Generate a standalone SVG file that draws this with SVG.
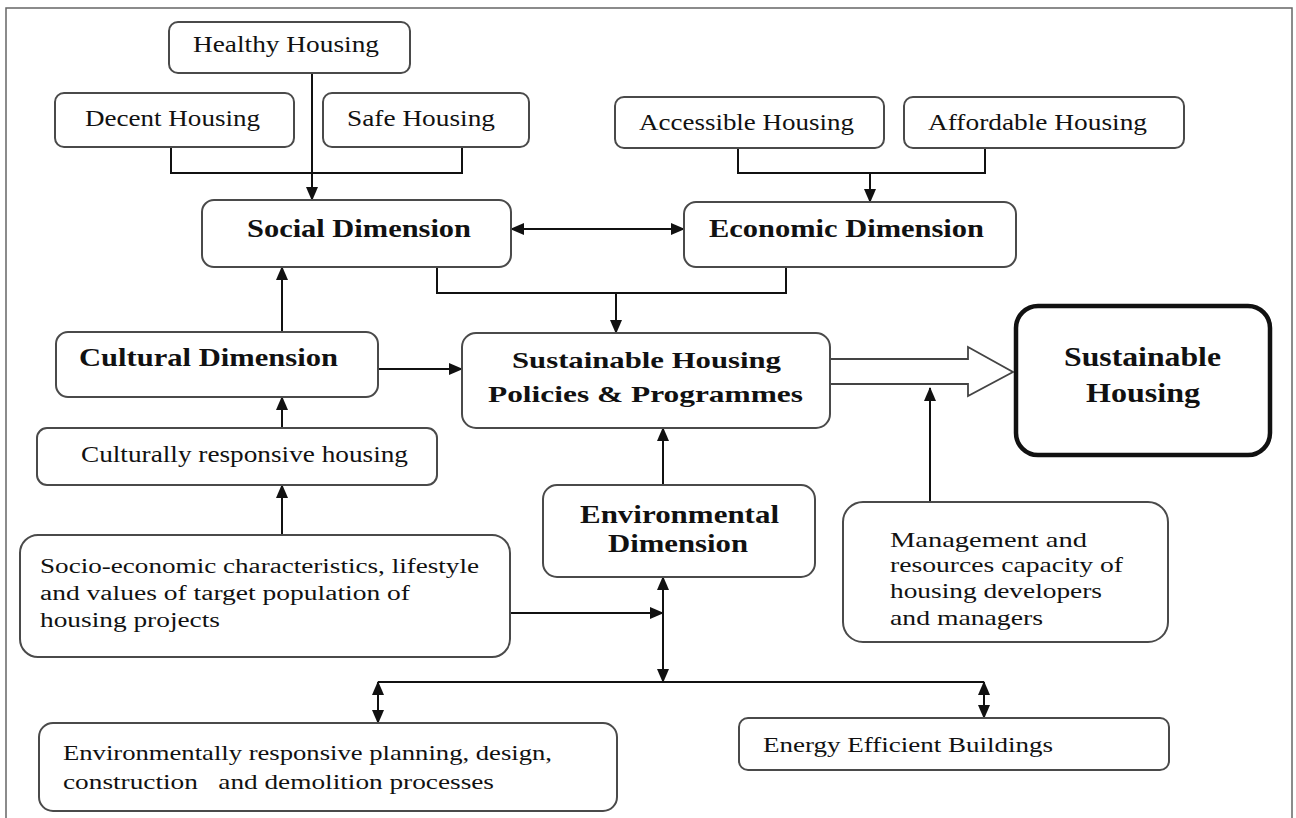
<svg xmlns="http://www.w3.org/2000/svg" width="1296" height="818" viewBox="0 0 1296 818">
<style>
.box{fill:#fff;stroke:#4a4a4a;stroke-width:2}
.thick{fill:#fff;stroke:#111;stroke-width:4.5}
.c{fill:none;stroke:#111;stroke-width:2}
.t{font-family:"Liberation Serif",serif;fill:#111}
.r{font-size:24px}
.b{font-size:25px;font-weight:bold}
.s{font-size:21px}
</style>
<defs>
<marker id="ah" markerUnits="userSpaceOnUse" markerWidth="14" markerHeight="12" refX="13" refY="6" orient="auto-start-reverse">
<path d="M0,0 L14,6 L0,12 Z" fill="#111"/>
</marker>
</defs>
<rect x="6" y="8" width="1286" height="830" fill="none" stroke="#666" stroke-width="1.5"/>
<g id="connectors">
<path class="c" d="M171,147 V173 H462 V147"/>
<path class="c" d="M312,73 V200" marker-end="url(#ah)"/>
<path class="c" d="M738,148 V173 H985 V148"/>
<path class="c" d="M870,173 V202" marker-end="url(#ah)"/>
<path class="c" d="M511,229 H684" marker-start="url(#ah)" marker-end="url(#ah)"/>
<path class="c" d="M437,267 V293 H786 V267"/>
<path class="c" d="M616,293 V333" marker-end="url(#ah)"/>
<path class="c" d="M282,332 V267" marker-end="url(#ah)"/>
<path class="c" d="M378,369 H462" marker-end="url(#ah)"/>
<path class="c" d="M282,428 V397" marker-end="url(#ah)"/>
<path class="c" d="M282,535 V485" marker-end="url(#ah)"/>
<path class="c" d="M663,485 V428" marker-end="url(#ah)"/>
<path class="c" d="M510,613 H663" marker-end="url(#ah)"/>
<path class="c" d="M663,577 V682" marker-start="url(#ah)" marker-end="url(#ah)"/>
<path class="c" d="M378,682 H984"/>
<path class="c" d="M378,682 V723" marker-start="url(#ah)" marker-end="url(#ah)"/>
<path class="c" d="M984,682 V718" marker-start="url(#ah)" marker-end="url(#ah)"/>
<path class="c" d="M930,502 V388" marker-end="url(#ah)"/>
<polygon points="829,359 968,359 968,347 1013,372 968,396 968,384 829,384" fill="#fff" stroke="#444" stroke-width="1.8"/>
</g>
<g id="healthy"><rect class="box" x="169" y="22" width="241" height="51" rx="9"/><text class="t r" x="193" y="52" textLength="186" lengthAdjust="spacingAndGlyphs">Healthy Housing</text></g>
<g id="decent"><rect class="box" x="55" y="93" width="239" height="54" rx="9"/><text class="t r" x="85" y="126" textLength="175" lengthAdjust="spacingAndGlyphs">Decent Housing</text></g>
<g id="safe"><rect class="box" x="323" y="93" width="206" height="54" rx="9"/><text class="t r" x="347" y="126" textLength="148" lengthAdjust="spacingAndGlyphs">Safe Housing</text></g>
<g id="accessible"><rect class="box" x="615" y="97" width="269" height="51" rx="9"/><text class="t r" x="639" y="130" textLength="215" lengthAdjust="spacingAndGlyphs">Accessible Housing</text></g>
<g id="affordable"><rect class="box" x="904" y="97" width="280" height="51" rx="9"/><text class="t r" x="928" y="130" textLength="219" lengthAdjust="spacingAndGlyphs">Affordable Housing</text></g>
<g id="social"><rect class="box" x="202" y="200" width="309" height="67" rx="12"/><text class="t b" x="247" y="237" textLength="224" lengthAdjust="spacingAndGlyphs">Social Dimension</text></g>
<g id="economic"><rect class="box" x="684" y="202" width="332" height="65" rx="12"/><text class="t b" x="709" y="237" textLength="275" lengthAdjust="spacingAndGlyphs">Economic Dimension</text></g>
<g id="cultural"><rect class="box" x="56" y="332" width="322" height="65" rx="12"/><text class="t b" x="79" y="366" textLength="259" lengthAdjust="spacingAndGlyphs">Cultural Dimension</text></g>
<g id="policies"><rect class="box" x="462" y="333" width="368" height="95" rx="14"/><text class="t b" x="512" y="368" textLength="269" lengthAdjust="spacingAndGlyphs" style="font-size:24px">Sustainable Housing</text><text class="t b" x="488" y="402" textLength="315" lengthAdjust="spacingAndGlyphs" style="font-size:24px">Policies &amp; Programmes</text></g>
<g id="sustainable-housing"><rect class="thick" x="1016" y="306" width="254" height="149" rx="22"/><text class="t b" x="1064" y="366" textLength="157" lengthAdjust="spacingAndGlyphs" style="font-size:27px">Sustainable</text><text class="t b" x="1086" y="402" textLength="114" lengthAdjust="spacingAndGlyphs" style="font-size:27px">Housing</text></g>
<g id="culturally"><rect class="box" x="37" y="428" width="400" height="57" rx="10"/><text class="t r" x="81" y="462" textLength="327" lengthAdjust="spacingAndGlyphs">Culturally responsive housing</text></g>
<g id="environmental"><rect class="box" x="543" y="485" width="272" height="92" rx="14"/><text class="t b" x="580" y="523" textLength="199" lengthAdjust="spacingAndGlyphs">Environmental</text><text class="t b" x="608" y="552" textLength="140" lengthAdjust="spacingAndGlyphs">Dimension</text></g>
<g id="socio"><rect class="box" x="20" y="535" width="490" height="122" rx="18"/>
<text class="t" style="font-size:20px" x="40" y="573" textLength="439" lengthAdjust="spacingAndGlyphs">Socio-economic characteristics, lifestyle</text>
<text class="t" style="font-size:20px" x="40" y="600" textLength="370" lengthAdjust="spacingAndGlyphs">and values of target population of</text>
<text class="t" style="font-size:20px" x="40" y="627" textLength="180" lengthAdjust="spacingAndGlyphs">housing projects</text></g>
<g id="management"><rect class="box" x="843" y="502" width="325" height="140" rx="20"/>
<text class="t" style="font-size:22px" x="890" y="547" textLength="197" lengthAdjust="spacingAndGlyphs">Management and</text>
<text class="t" style="font-size:22px" x="890" y="572" textLength="233" lengthAdjust="spacingAndGlyphs">resources capacity of</text>
<text class="t" style="font-size:22px" x="890" y="598" textLength="212" lengthAdjust="spacingAndGlyphs">housing developers</text>
<text class="t" style="font-size:22px" x="890" y="625" textLength="153" lengthAdjust="spacingAndGlyphs">and managers</text></g>
<g id="env-responsive"><rect class="box" x="39" y="723" width="578" height="88" rx="14"/>
<text class="t s" x="63" y="760" textLength="489" lengthAdjust="spacingAndGlyphs">Environmentally responsive planning,  design,</text>
<text class="t s" x="63" y="789" textLength="431" lengthAdjust="spacingAndGlyphs" xml:space="preserve">construction   and demolition processes</text></g>
<g id="energy"><rect class="box" x="739" y="718" width="430" height="52" rx="9"/><text class="t" style="font-size:22px" x="763" y="752" textLength="290" lengthAdjust="spacingAndGlyphs">Energy Efficient Buildings</text></g>
</svg>
